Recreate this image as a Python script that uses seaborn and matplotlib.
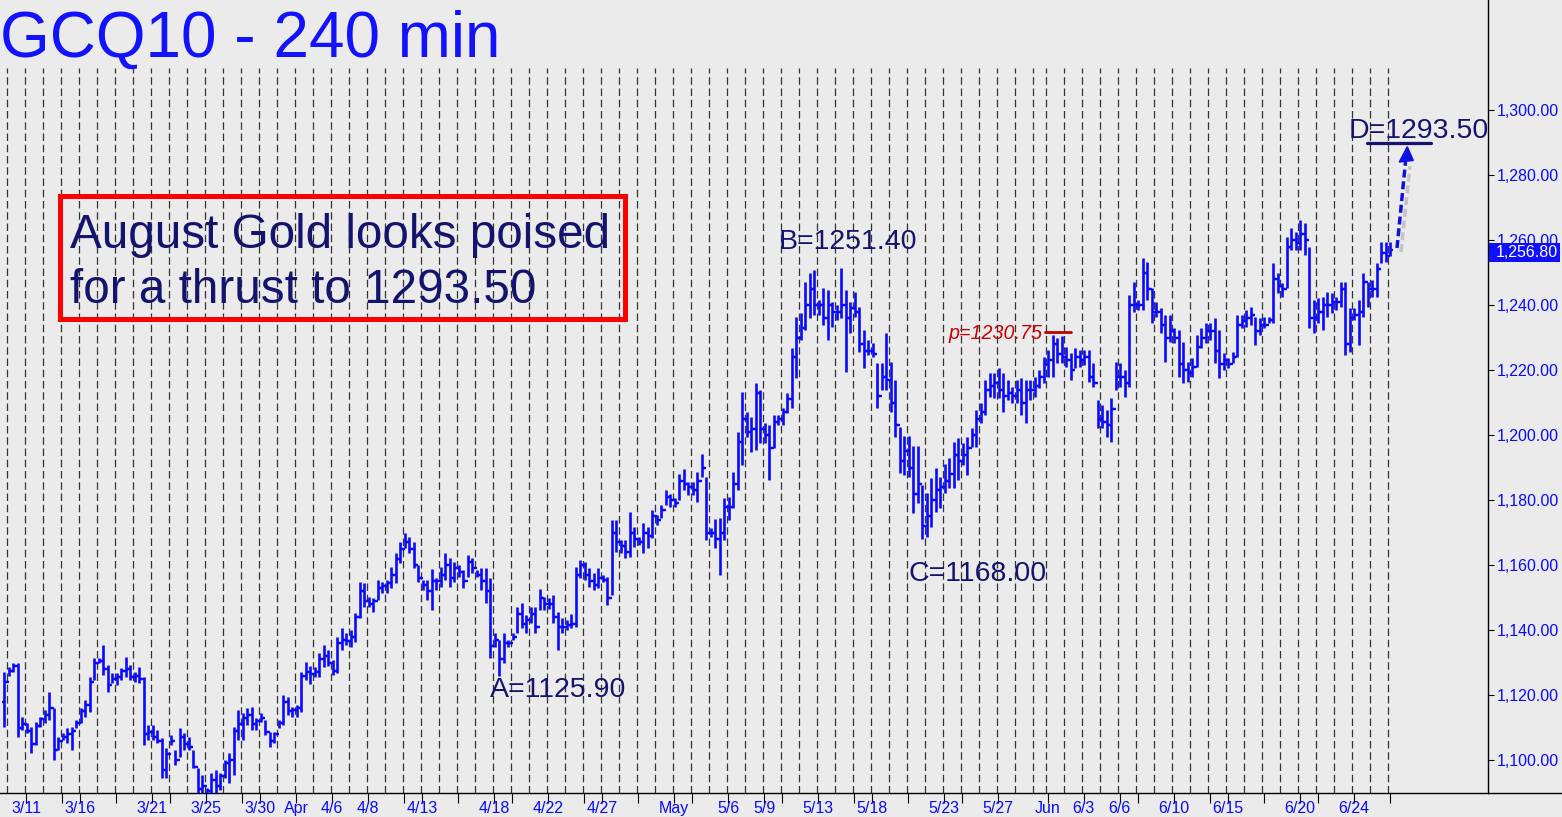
import numpy as np
import matplotlib
matplotlib.use("Agg")
import matplotlib.pyplot as plt
import seaborn as sns
from matplotlib.patches import Rectangle, Polygon
from matplotlib.lines import Line2D

W, H = 1562, 817
BG = "#ebebeb"
BLUE = "#0a0aff"
NAVY = "#141470"

# 240-min bars, one inner list per session (first and last sessions are partial)
bar_high = [
    [1127.1],
    [1128.5, 1129.8, 1129.8, 1113.2], [1111.4, 1110.1, 1111.7, 1113.2], [1115.4, 1120.9, 1116.0, 1107.0],
    [1108.3, 1109.8, 1110.1, 1112.3], [1116.0, 1118.5, 1125.6, 1131.4], [1131.4, 1135.4, 1129.2, 1126.8],
    [1126.8, 1128.3, 1131.7, 1129.2], [1127.1, 1128.6, 1125.6, 1110.8], [1110.8, 1109.2, 1106.8, 1103.7],
    [1107.7, 1103.1, 1109.8, 1108.3], [1107.0, 1103.1, 1097.5, 1095.4], [1091.5, 1096.0, 1096.9, 1096.0],
    [1100.0, 1102.2, 1110.1, 1115.4], [1114.5, 1116.0, 1116.3, 1112.9], [1114.5, 1112.3, 1108.6, 1108.6],
    [1112.3, 1120.0, 1119.4, 1116.3], [1116.9, 1127.1, 1130.1, 1128.9], [1128.6, 1132.8, 1135.4, 1133.8],
    [1130.8, 1137.7, 1140.6, 1139.0], [1140.0, 1145.2, 1154.8, 1154.5], [1150.2, 1149.8, 1155.4, 1154.8],
    [1155.4, 1159.4, 1163.7, 1167.1], [1169.8, 1168.6, 1167.1, 1160.0], [1155.4, 1155.4, 1158.8, 1156.0],
    [1159.4, 1163.7, 1162.2, 1160.9], [1160.0, 1158.5, 1163.1, 1162.2], [1158.5, 1159.1, 1159.1, 1156.0],
    [1139.2, 1136.9, 1139.0, 1136.9], [1139.2, 1147.1, 1148.3, 1144.6], [1147.1, 1147.1, 1152.6, 1150.2],
    [1149.8, 1150.8, 1145.5, 1143.7], [1143.1, 1144.8, 1159.4, 1161.5], [1160.9, 1159.1, 1157.5, 1159.1],
    [1157.0, 1156.3, 1173.8, 1173.8], [1167.7, 1167.7, 1176.3, 1171.7], [1168.6, 1172.9, 1171.7, 1176.9],
    [1175.4, 1178.5, 1183.1, 1181.8], [1180.6, 1188.0, 1189.5, 1185.5], [1185.5, 1188.6, 1194.2, 1187.1],
    [1171.5, 1174.3, 1174.6, 1180.6], [1180.9, 1188.6, 1200.9, 1213.2], [1207.1, 1205.5, 1216.0, 1213.8],
    [1203.7, 1203.1, 1206.2, 1206.2], [1208.3, 1212.9, 1226.8, 1236.3], [1237.5, 1247.1, 1249.8, 1250.8],
    [1241.5, 1245.2, 1244.6, 1240.9], [1240.0, 1251.4, 1244.6, 1240.9], [1244.0, 1239.4, 1232.3, 1229.2],
    [1228.3, 1222.2, 1222.2, 1231.4], [1222.5, 1216.9, 1202.5, 1199.7], [1199.7, 1196.6, 1196.6, 1184.6],
    [1182.2, 1186.8, 1189.8, 1187.1], [1191.1, 1192.9, 1197.8, 1199.1], [1197.5, 1199.4, 1202.2, 1207.7],
    [1209.8, 1216.9, 1219.1, 1219.1], [1220.6, 1219.1, 1216.9, 1214.8], [1216.9, 1217.5, 1216.9, 1216.9],
    [1217.8, 1220.0, 1224.0],
    [1226.2, 1230.75, 1230.0, 1230.5], [1227.1, 1225.2, 1226.8, 1226.2], [1226.2, 1226.2, 1222.2, 1210.8],
    [1209.2, 1207.7, 1211.4, 1222.5], [1222.2, 1220.0, 1243.1, 1247.1], [1241.5, 1254.5, 1253.2, 1245.2],
    [1240.9, 1239.1, 1236.9, 1236.9], [1232.9, 1232.3, 1228.6, 1222.5], [1223.7, 1230.8, 1232.9, 1234.5],
    [1234.5, 1236.0, 1232.3, 1225.2], [1223.7, 1225.5, 1236.9, 1236.9], [1238.5, 1239.4, 1236.3, 1236.0],
    [1236.3, 1236.3, 1252.9, 1249.8], [1246.8, 1260.9, 1263.7, 1262.5], [1266.2, 1265.2, 1257.8, 1241.5],
    [1242.2, 1242.5, 1244.0, 1243.7], [1242.5, 1247.1, 1247.1, 1239.1], [1239.1, 1241.5, 1249.8, 1247.1],
    [1247.7, 1252.9, 1259.4, 1259.4],
    [1259.4],
]
bar_low = [
    [1110.1],
    [1126.0, 1127.0, 1107.0, 1109.2], [1108.3, 1102.2, 1104.6, 1110.1], [1111.4, 1112.3, 1100.0, 1103.1],
    [1106.2, 1105.2, 1103.1, 1109.8], [1111.4, 1113.2, 1114.8, 1124.6], [1129.8, 1126.2, 1120.9, 1123.7],
    [1123.1, 1124.6, 1125.6, 1124.6], [1124.0, 1123.7, 1104.6, 1106.2], [1106.2, 1105.2, 1094.5, 1094.5],
    [1104.6, 1098.5, 1100.9, 1103.1], [1103.1, 1097.5, 1088.0, 1088.0], [1089.0, 1088.5, 1088.0, 1090.8],
    [1094.5, 1093.0, 1095.4, 1106.2], [1106.2, 1110.8, 1109.2, 1109.2], [1111.7, 1107.7, 1104.0, 1105.2],
    [1109.8, 1110.8, 1113.8, 1113.2], [1113.2, 1114.8, 1124.6, 1123.4], [1125.6, 1125.6, 1128.6, 1129.0],
    [1126.2, 1126.8, 1133.8, 1135.4], [1134.8, 1136.3, 1143.7, 1147.1], [1147.1, 1145.5, 1149.2, 1151.4],
    [1151.4, 1152.9, 1154.5, 1160.6], [1165.2, 1163.8, 1159.2, 1154.8], [1152.3, 1149.2, 1146.2, 1152.3],
    [1153.2, 1155.4, 1153.2, 1154.8], [1156.2, 1152.9, 1156.2, 1157.5], [1156.2, 1152.3, 1148.2, 1131.4],
    [1134.8, 1125.9, 1129.8, 1134.8], [1136.9, 1139.2, 1140.6, 1139.0], [1142.2, 1139.0, 1146.2, 1146.2],
    [1146.5, 1142.2, 1133.8, 1139.0], [1140.0, 1140.6, 1140.9, 1156.0], [1155.4, 1153.2, 1152.3, 1152.9],
    [1154.8, 1147.7, 1150.8, 1164.0], [1163.7, 1162.2, 1162.5, 1165.5], [1166.2, 1163.7, 1165.2, 1168.3],
    [1172.3, 1174.5, 1178.5, 1177.8], [1177.8, 1180.0, 1183.1, 1181.5], [1181.5, 1179.4, 1187.1, 1167.7],
    [1168.6, 1165.2, 1156.9, 1167.7], [1173.8, 1177.5, 1183.1, 1190.8], [1199.4, 1194.8, 1195.4, 1197.5],
    [1197.5, 1186.2, 1196.0, 1203.1], [1203.1, 1206.8, 1208.3, 1217.5], [1229.2, 1232.3, 1236.0, 1236.9],
    [1236.9, 1233.8, 1229.2, 1233.2], [1235.4, 1236.0, 1219.4, 1231.4], [1236.3, 1225.5, 1220.6, 1224.6],
    [1224.0, 1208.3, 1213.8, 1213.8], [1207.1, 1199.4, 1188.3, 1187.7], [1187.1, 1176.0, 1179.1, 1168.0],
    [1168.6, 1171.7, 1176.3, 1177.5], [1182.2, 1183.7, 1183.8, 1186.2], [1190.8, 1187.7, 1196.3, 1196.3],
    [1203.7, 1206.2, 1211.7, 1211.4], [1211.4, 1207.1, 1210.8, 1209.8], [1209.8, 1206.2, 1203.7, 1210.8],
    [1211.7, 1214.5, 1216.0],
    [1217.8, 1217.8, 1222.2, 1222.2], [1221.0, 1216.9, 1220.6, 1221.0], [1221.5, 1216.3, 1214.8, 1202.2],
    [1202.2, 1199.4, 1197.8, 1213.8], [1214.8, 1211.7, 1214.8, 1237.8], [1238.5, 1238.5, 1241.5, 1234.5],
    [1236.3, 1231.4, 1222.5, 1228.6], [1228.3, 1217.8, 1216.0, 1216.3], [1217.8, 1220.9, 1226.8, 1228.3],
    [1229.2, 1222.2, 1217.5, 1220.0], [1220.6, 1222.2, 1224.0, 1232.9], [1233.2, 1233.8, 1227.7, 1230.8],
    [1232.9, 1234.5, 1234.5, 1243.7], [1242.5, 1245.2, 1256.9, 1256.9], [1256.9, 1255.4, 1232.9, 1231.4],
    [1234.5, 1232.3, 1236.3, 1237.5], [1238.5, 1239.4, 1224.6, 1225.5], [1235.4, 1227.7, 1236.3, 1239.4],
    [1242.5, 1242.5, 1252.9, 1253.2],
    [1255.1],
]
bar_close = [
    [1124.0],
    [1127.5, 1129.0, 1110.0, 1111.0], [1109.0, 1105.0, 1110.5, 1112.5], [1114.0, 1116.0, 1103.0, 1106.0],
    [1107.0, 1108.0, 1109.0, 1111.5], [1115.0, 1117.0, 1124.0, 1130.0], [1130.5, 1128.0, 1123.0, 1125.0],
    [1125.5, 1127.5, 1128.0, 1125.5], [1126.0, 1125.0, 1108.0, 1108.5], [1107.0, 1106.0, 1097.0, 1102.0],
    [1106.0, 1100.0, 1107.0, 1105.0], [1104.0, 1098.0, 1091.0, 1092.0], [1090.5, 1094.0, 1092.0, 1095.0],
    [1099.0, 1100.0, 1109.0, 1111.0], [1113.0, 1114.0, 1111.0, 1112.0], [1113.0, 1108.5, 1106.0, 1108.0],
    [1111.5, 1118.0, 1115.0, 1115.5], [1116.0, 1126.0, 1127.0, 1126.5], [1127.0, 1131.0, 1132.0, 1130.0],
    [1127.5, 1136.0, 1137.0, 1136.5], [1138.0, 1144.0, 1152.0, 1149.0], [1148.0, 1149.0, 1153.0, 1153.5],
    [1154.5, 1157.0, 1162.0, 1165.0], [1167.0, 1165.0, 1160.0, 1156.0], [1154.0, 1152.0, 1155.0, 1155.0],
    [1157.0, 1160.0, 1156.0, 1159.0], [1158.0, 1155.0, 1161.0, 1159.0], [1157.0, 1155.0, 1152.0, 1135.0],
    [1137.0, 1131.0, 1136.0, 1136.0], [1138.0, 1145.0, 1142.0, 1143.0], [1145.0, 1141.0, 1150.0, 1148.0],
    [1148.0, 1144.0, 1141.0, 1141.0], [1141.5, 1142.0, 1157.0, 1160.0], [1157.0, 1155.0, 1154.0, 1156.0],
    [1155.5, 1150.0, 1170.0, 1167.0], [1166.0, 1164.0, 1170.0, 1168.0], [1167.0, 1170.0, 1169.0, 1175.0],
    [1174.0, 1177.0, 1181.0, 1180.0], [1179.0, 1186.0, 1185.0, 1184.0], [1183.0, 1186.0, 1190.0, 1170.0],
    [1170.0, 1168.0, 1170.0, 1178.0], [1178.0, 1185.0, 1198.0, 1205.0], [1201.0, 1202.0, 1213.0, 1202.0],
    [1200.0, 1196.0, 1204.0, 1205.0], [1207.0, 1211.0, 1224.0, 1230.0], [1233.0, 1240.0, 1245.0, 1240.0],
    [1240.0, 1236.0, 1240.0, 1238.0], [1238.0, 1240.0, 1236.0, 1239.0], [1238.0, 1228.0, 1226.0, 1226.0],
    [1225.0, 1212.0, 1218.0, 1217.0], [1210.0, 1203.0, 1192.0, 1195.0], [1190.0, 1182.0, 1185.0, 1172.0],
    [1175.0, 1180.0, 1183.0, 1184.0], [1186.0, 1188.0, 1194.0, 1192.0], [1194.0, 1196.0, 1200.0, 1205.0],
    [1207.0, 1214.0, 1215.0, 1216.0], [1214.0, 1212.0, 1213.0, 1212.0], [1214.0, 1210.0, 1214.0, 1214.0],
    [1215.0, 1218.0, 1222.0],
    [1223.0, 1228.0, 1225.0, 1224.0], [1223.0, 1220.0, 1224.0, 1223.0], [1224.0, 1218.0, 1216.0, 1205.0],
    [1204.0, 1203.0, 1208.0, 1218.0], [1218.0, 1216.0, 1240.0, 1240.0], [1240.0, 1250.0, 1245.0, 1238.0],
    [1238.0, 1234.0, 1230.0, 1232.0], [1230.0, 1222.0, 1220.0, 1219.0], [1221.0, 1227.0, 1230.0, 1232.0],
    [1232.0, 1226.0, 1222.0, 1223.0], [1222.0, 1224.0, 1234.0, 1235.0], [1236.0, 1237.0, 1232.0, 1234.0],
    [1234.0, 1235.5, 1248.0, 1246.0], [1245.0, 1258.0, 1260.0, 1259.0], [1262.0, 1260.0, 1236.0, 1236.0],
    [1238.0, 1240.0, 1240.0, 1241.0], [1241.0, 1245.0, 1228.0, 1236.0], [1237.0, 1238.0, 1247.0, 1245.0],
    [1245.0, 1251.0, 1256.0, 1255.0],
    [1256.8],
]
first_open = 1118.0

# date axis: session numbers that carry a labelled / unlabelled tick
label_text = ["3/11", "3/16", "3/21", "3/25", "3/30", "Apr", "4/6", "4/8", "4/13", "4/18",
              "4/22", "4/27", "May", "5/6", "5/9", "5/13", "5/18", "5/23", "5/27", "Jun",
              "6/3", "6/6", "6/10", "6/15", "6/20", "6/24"]
label_session = [2, 5, 9, 12, 15, 17, 19, 21, 24, 28, 31, 34, 38, 41, 43, 46, 49, 53, 56, 59,
                 61, 63, 66, 69, 73, 76]
minor_session = [4, 7, 10, 14, 23, 26, 29, 33, 36, 39, 44, 48, 51, 54, 64, 68, 71, 74, 78]

price_levels = [1100, 1120, 1140, 1160, 1180, 1200, 1220, 1240, 1260, 1280, 1300]
last_price = 1256.80

sns.set_theme(style="white", rc={"axes.facecolor": BG, "figure.facecolor": BG})
plt.rcParams["font.family"] = ["Liberation Sans", "DejaVu Sans"]

highs = np.concatenate(bar_high)
lows = np.concatenate(bar_low)
closes = np.concatenate(bar_close)
opens = np.r_[first_open, closes[:-1]]
x = np.arange(len(highs))
sizes = [len(s) for s in bar_high]
starts = np.cumsum([0] + sizes[:-1])


def fx(px):
    return px / W


def fy(py):
    return 1 - py / H


fig = plt.figure(figsize=(W / 100, H / 100), dpi=100)
ax = fig.add_axes([0, fy(793), fx(1488), 793 / H])
ax.set_xlim(-0.989, 329.68)
ax.set_ylim(1089.85, 1333.85)

# session separators
ax.vlines(starts[1:] - 0.5, 1089.85, 1313, colors="#333333", lw=0.9,
          linestyles=(0, (6, 3)), zorder=1)

# OHLC bars
ax.vlines(x, lows, highs, color=BLUE, lw=1.9, zorder=3)
ax.hlines(opens, x - 0.65, x, color=BLUE, lw=1.7, zorder=3)
ax.hlines(closes, x, x + 0.65, color=BLUE, lw=1.7, zorder=3)

for s in ["left", "top"]:
    ax.spines[s].set_visible(False)
for s in ["right", "bottom"]:
    ax.spines[s].set_color("black")
    ax.spines[s].set_linewidth(1)

ax.yaxis.tick_right()
ax.set_yticks(price_levels)
ax.set_yticklabels([f"{v:,.2f}" for v in price_levels])
ax.tick_params(axis="y", right=True, left=False, length=4.5, width=0.8, color="black",
               labelcolor=BLUE, labelsize=11.5, pad=1.5)

ax.set_xticks([starts[s] - 0.2 for s in label_session])
ax.set_xticklabels(label_text)
ax.set_xticks([starts[s] - 0.2 for s in minor_session], minor=True)
ax.tick_params(axis="x", which="both", bottom=True, length=7, width=0.8, color="black",
               labelcolor=BLUE, labelsize=11.5, pad=-1.5)
ax.grid(False)

fig.add_artist(Line2D([fx(1488), 1], [fy(793), fy(793)], color="black", lw=1))

# title
fig.text(fx(0), fy(57), "GCQ10 - 240 min", fontsize=46, color="#1212ff", va="baseline", ha="left")

# comment box
fig.add_artist(Rectangle((fx(60.5), fy(318.5)), fx(564), 123 / H, transform=fig.transFigure,
                         fill=False, edgecolor="#ff0000", lw=3.6))
fig.text(fx(70), fy(248), "August Gold looks poised", fontsize=34.3, color=NAVY, va="baseline")
fig.text(fx(70), fy(303), "for a thrust to 1293.50", fontsize=34.3, color=NAVY, va="baseline")

# pattern points
for txt, px, py in [("A=1125.90", 490, 697), ("B=1251.40", 779, 249),
                    ("C=1168.00", 908, 581), ("D=1293.50", 1349, 138)]:
    fig.text(fx(px), fy(py), txt, fontsize=20.5, color=NAVY, va="baseline")

fig.text(fx(1043), fy(339), "p=1230.75", fontsize=14.2, color="#c80000", style="italic",
         ha="right", va="baseline")
fig.add_artist(Line2D([fx(1045), fx(1071)], [fy(332), fy(332)], color="#c00000", lw=2))

# target line and projection arrow
fig.add_artist(Line2D([fx(1367), fx(1431)], [fy(143), fy(143)], color=NAVY, lw=2.3))
fig.add_artist(Line2D([fx(1401), fx(1410)], [fy(252), fy(166)], color="#c4c4c4", lw=2.5,
                      dashes=(2.3, 1.1)))
fig.add_artist(Line2D([fx(1397), fx(1405.5)], [fy(248), fy(162)], color="#1010e0", lw=2.5,
                      dashes=(2.3, 1.1)))
fig.add_artist(Polygon([(fx(1407.3), fy(146.7)), (fx(1399.3), fy(162)), (fx(1413.3), fy(160.5))],
                       closed=True, transform=fig.transFigure, color="#1010e0"))

# last price flag (covers the 1,260 label, as in the original)
fig.add_artist(Rectangle((fx(1489), fy(262)), fx(71), 19 / H, transform=fig.transFigure,
                         facecolor="#1010ff", edgecolor="none"))
fig.text(fx(1527), fy(252.5), f"{last_price:,.2f}", fontsize=11.5, color="white",
         ha="center", va="center")

fig.savefig("out.png", dpi=100, facecolor=BG)
